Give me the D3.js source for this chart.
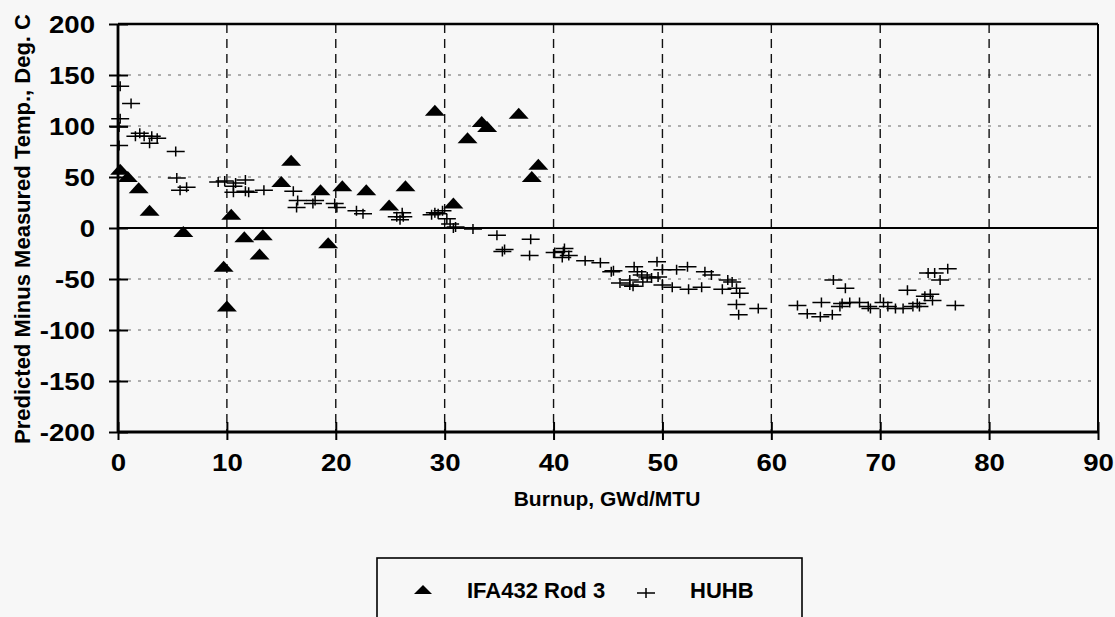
<!DOCTYPE html>
<html><head><meta charset="utf-8">
<script src="https://cdn.jsdelivr.net/npm/d3@7"></script>
<style>
html,body{margin:0;padding:0;background:#f7f7f7;}
svg{display:block;}
text{font-family:"Liberation Sans",Arial,sans-serif;font-weight:bold;fill:#000;}
</style></head>
<body>
<svg id="chart" width="1115" height="617"></svg>
<script>
// ---- data ----
const xTicks = [0,10,20,30,40,50,60,70,80,90];
const yTicks = [-200,-150,-100,-50,0,50,100,150,200];
const seriesNames = ["IFA432 Rod 3","HUHB"];
const xTitle = "Burnup, GWd/MTU";
const yTitle = "Predicted Minus Measured Temp., Deg. C";

const rodX = [0.2,0.9,1.9,2.9,6.0,9.7,10.0,10.4,11.6,13.0,13.3,15.0,15.9,18.6,19.3,20.6,22.8,24.9,26.4,29.1,30.8,32.1,33.4,33.9,36.8,38.0,38.6];
const rodY = [57,50,39,17,-4,-38,-77,13,-9,-26,-7,45,66,37,-15,41,37,22,41,115,24,88,104,99,112,50,62];

const huhbX = [0.2,1.2,0.2,0.1,0.1,1.6,2.0,2.4,3.1,2.9,3.6,5.3,5.4,5.7,6.3,
  9.2,9.8,10.6,10.8,11.7,10.6,11.7,12.0,13.4,16.1,16.5,16.4,17.9,18.1,19.9,20.1,21.9,22.5,25.6,26.1,26.2,25.9,
  28.8,29.1,29.4,29.8,30.2,30.5,30.8,31.0,32.6,34.8,35.3,35.5,37.9,37.8,
  40.1,40.9,41.0,40.8,41.4,42.9,44.3,45.3,45.5,46.1,47.0,47.0,47.3,47.4,47.7,48.1,48.2,48.6,49.0,49.6,49.5,50.0,50.0,50.9,51.3,52.3,52.4,53.6,53.9,54.5,55.5,56.0,56.4,56.8,57.1,56.8,57.0,58.8,
  62.4,63.3,64.5,64.6,65.6,65.7,66.3,66.5,66.8,67.2,68.1,68.9,69.1,70.3,70.7,71.4,72.1,72.5,73.0,73.4,73.6,74.1,74.4,74.6,74.8,75.0,75.5,76.2,76.9];
const huhbY = [139,122,107,99,81,90,93,90,90,83,88,75,49,37,40,
  45,46,41,44,47,35,36,35,37,36,27,20,24,27,24,20,17,14,11,15,11,8,
  13,15,14,17,9,4,0,1,-1,-7,-23,-21,-11,-27,
  -24,-23,-20,-29,-27,-32,-34,-43,-42,-54,-51,-56,-57,-38,-43,-46,-53,-48,-49,-48,-33,-41,-56,-58,-41,-38,-60,-58,-43,-46,-60,-51,-53,-59,-64,-75,-85,-79,
  -76,-84,-87,-73,-85,-51,-77,-74,-59,-73,-73,-77,-79,-73,-77,-79,-79,-61,-77,-74,-77,-67,-44,-65,-71,-44,-51,-40,-76];

// ---- layout ----
const svg = d3.select("#chart");
const L = 118, R = 1098, T = 24, B = 432;
const x = d3.scaleLinear().domain([0,90]).range([L,R]);
const y = d3.scaleLinear().domain([-200,200]).range([B,T]);
const SX = 1.15; // horizontal stretch of tick label glyphs

// horizontal dotted grid
svg.append("g").selectAll("line").data(yTicks.filter(v=>v!==0 && Math.abs(v)!==200)).join("line")
  .attr("x1",L).attr("x2",R).attr("y1",d=>y(d)).attr("y2",d=>y(d))
  .attr("stroke","#666").attr("stroke-width",1).attr("stroke-dasharray","3,7");
// vertical dashed grid
svg.append("g").selectAll("line").data(xTicks.filter(v=>v>0 && v<90)).join("line")
  .attr("x1",d=>x(d)).attr("x2",d=>x(d)).attr("y1",T).attr("y2",B)
  .attr("stroke","#111").attr("stroke-width",1.4).attr("stroke-dasharray","9,6");

// frame
svg.append("line").attr("x1",L).attr("x2",R).attr("y1",T).attr("y2",T).attr("stroke","#000").attr("stroke-width",2.5);
svg.append("line").attr("x1",R).attr("x2",R).attr("y1",T).attr("y2",B).attr("stroke","#000").attr("stroke-width",2);
svg.append("line").attr("x1",L).attr("x2",R).attr("y1",y(0)).attr("y2",y(0)).attr("stroke","#000").attr("stroke-width",2.2);

// axes via d3 axis
const fmt = d => String(d);
const yAxis = svg.append("g").attr("transform",`translate(${L},0)`)
  .call(d3.axisLeft(y).tickValues(yTicks).tickSize(9).tickPadding(14).tickFormat(fmt));
yAxis.select(".domain").attr("stroke-width",2.8).attr("d",`M0,${T}V${B}`);
yAxis.selectAll(".tick line").attr("x2",-9).attr("x1",10).attr("stroke-width",2);
yAxis.selectAll(".tick text").attr("font-size",24).attr("font-weight","bold")
  .attr("font-family","'Liberation Sans',Arial,sans-serif").attr("fill","#000")
  .attr("x",-23/SX).attr("transform",`scale(${SX},1)`).attr("dy","0.36em");

const xAxis = svg.append("g").attr("transform",`translate(0,${B})`)
  .call(d3.axisBottom(x).tickValues(xTicks).tickSize(8).tickPadding(14).tickFormat(fmt));
xAxis.select(".domain").attr("stroke-width",3).attr("d",`M${L},0H${R}`);
xAxis.selectAll(".tick line").attr("y1",-10).attr("y2",8).attr("stroke-width",2);
xAxis.selectAll(".tick text").attr("font-size",24).attr("font-weight","bold")
  .attr("font-family","'Liberation Sans',Arial,sans-serif").attr("fill","#000")
  .attr("transform",`scale(${SX},1)`).attr("y",22).attr("dy","0.71em");

// titles
svg.append("text").attr("x",(L+R)/2 - 1).attr("y",506).attr("text-anchor","middle")
  .attr("font-size",21).text(xTitle);
svg.append("text").attr("transform",`translate(30,${(T+B)/2 + 1}) rotate(-90)`).attr("text-anchor","middle")
  .attr("font-size",22).text(yTitle);

// marks
const tri = "M0,-6L10,5L-10,5Z";
const rod = rodX.map((v,i)=>({x:v,y:rodY[i]}));
const huhb = huhbX.map((v,i)=>({x:v,y:huhbY[i]}));
svg.append("g").selectAll("path").data(huhb).join("path")
  .attr("transform",d=>`translate(${x(d.x)},${y(d.y)})`)
  .attr("d","M-9,0H9M0,-5V5").attr("stroke","#000").attr("stroke-width",1.5).attr("fill","none");
svg.append("g").selectAll("path").data(rod).join("path")
  .attr("transform",d=>`translate(${x(d.x)},${y(d.y)})`)
  .attr("d",tri).attr("fill","#000");

// legend
const lg = svg.append("g");
lg.append("rect").attr("x",377).attr("y",558).attr("width",425).attr("height",80)
  .attr("fill","none").attr("stroke","#000").attr("stroke-width",1.6);
lg.append("path").attr("transform","translate(423,590)").attr("d","M0,-5L9,4L-9,4Z").attr("fill","#000");
lg.append("text").attr("x",467).attr("y",598).attr("font-size",22).text(seriesNames[0]);
lg.append("path").attr("transform","translate(646,593)").attr("d","M-9,0H9M0,-5V5").attr("stroke","#000").attr("stroke-width",1.5);
lg.append("text").attr("x",690).attr("y",598).attr("font-size",22).text(seriesNames[1]);
</script>
</body></html>
